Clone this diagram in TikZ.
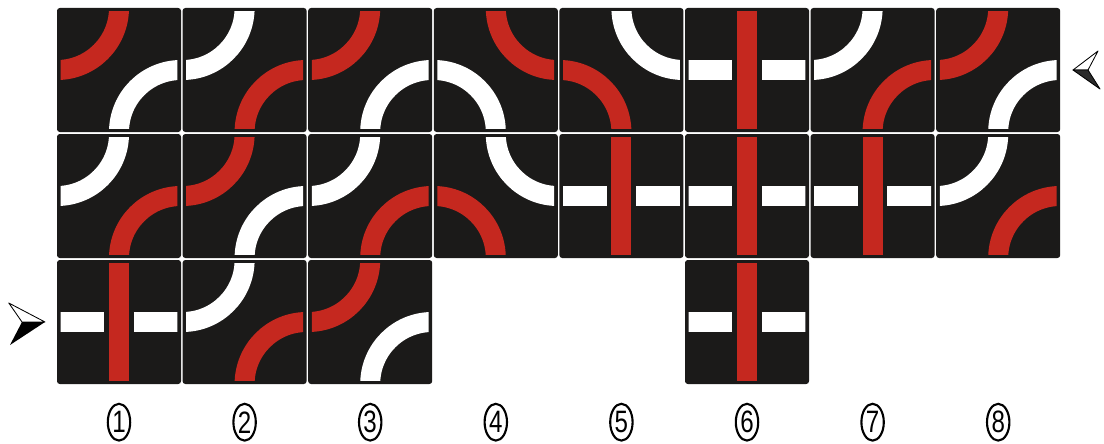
\documentclass[tikz,border=0pt]{standalone}
\usepackage{fontspec}
\usepackage{tikz}
\usetikzlibrary{calc, shapes.geometric}
\newfontfamily\digitFont[FakeStretch=0.78]{Liberation Sans}
\definecolor{tileDark}{HTML}{1B1A19}
\definecolor{trackRed}{HTML}{C5281F}
\definecolor{markGray}{HTML}{2A2A2A}

% quarter track around one tile corner: style, tile, corner, start angle
\newcommand\bend[4]{%
  \draw[#1] ($(#2.#3)+(#4:1.55)$) arc[start angle=#4, delta angle=90, radius=1.55];}

\begin{document}
\begin{tikzpicture}[
    tile/.style={rectangle, fill=tileDark, rounded corners=2pt,
                 minimum size=3.1cm, inner sep=0pt, outer sep=0pt},
    redtrack/.style={draw=trackRed, line width=0.5cm},
    whitetrack/.style={draw=white, line width=0.5cm},
    numlabel/.style={ellipse, draw=black, line width=1.5pt, minimum width=0.56cm,
                     minimum height=0.92cm, inner sep=0pt,
                     font=\digitFont\fontsize{22pt}{22pt}\selectfont},
  ]
    \clip (0,0) rectangle (27.6,11.075);

    % Tiles: a = red NW / white SE, b = white NW / red SE,
    %        c = red NE / white SW, d = white NE / red SW, x = crossing
    \foreach \row/\col/\kind in {%
      1/1/a, 1/2/b, 1/3/a, 1/4/c, 1/5/d, 1/6/x, 1/7/b, 1/8/a,
      2/1/b, 2/2/a, 2/3/b, 2/4/d, 2/5/x, 2/6/x, 2/7/x, 2/8/b,
      3/1/x, 3/2/b, 3/3/a, 3/6/x}{
      \node[tile] (t-\row-\col) at ({2.975 + (\col-1)*3.14}, {9.325 - (\row-1)*3.15}) {};
      \begin{scope}
        \clip ($(t-\row-\col.south west)+(0.09,0.09)$) rectangle
              ($(t-\row-\col.north east)+(-0.09,-0.09)$);
        \if a\kind
          \bend{redtrack}{t-\row-\col}{north west}{-90}
          \bend{whitetrack}{t-\row-\col}{south east}{90}
        \fi
        \if b\kind
          \bend{whitetrack}{t-\row-\col}{north west}{-90}
          \bend{redtrack}{t-\row-\col}{south east}{90}
        \fi
        \if c\kind
          \bend{redtrack}{t-\row-\col}{north east}{180}
          \bend{whitetrack}{t-\row-\col}{south west}{0}
        \fi
        \if d\kind
          \bend{whitetrack}{t-\row-\col}{north east}{180}
          \bend{redtrack}{t-\row-\col}{south west}{0}
        \fi
        \if x\kind
          \draw[redtrack] (t-\row-\col.north) -- (t-\row-\col.south);
          \draw[whitetrack] (t-\row-\col.west) -- ($(t-\row-\col)+(-0.37,0)$);
          \draw[whitetrack] ($(t-\row-\col)+(0.37,0)$) -- (t-\row-\col.east);
        \fi
      \end{scope}
    }

    % Column numbers
    \foreach \col in {1,...,8}{
      \node[numlabel] (n-\col) at ({2.975 + (\col-1)*3.14}, 0.52) {\col};
    }

    % Entry marker (row 3) and exit marker (row 1)
    \coordinate (inTip) at (1.125,3.025);
    \coordinate (inTop) at (0.22,3.5);
    \coordinate (inNotch) at (0.55,3.025);
    \coordinate (inBot) at (0.25,2.45);
    \filldraw[fill=white, draw=black, line width=0.6pt, line join=round]
      (inTop) -- (inTip) -- (inNotch) -- cycle;
    \fill[black] (inNotch) -- (inTip) -- (inBot) -- cycle;

    \coordinate (outTip) at (26.825,9.325);
    \coordinate (outTop) at (27.45,9.8);
    \coordinate (outNotch) at (27.2,9.325);
    \coordinate (outBot) at (27.5,8.85);
    \filldraw[fill=white, draw=black, line width=0.6pt, line join=round]
      (outTop) -- (outTip) -- (outNotch) -- cycle;
    \filldraw[fill=markGray, draw=black, line width=0.6pt, line join=round]
      (outNotch) -- (outTip) -- (outBot) -- cycle;
\end{tikzpicture}
\end{document}
